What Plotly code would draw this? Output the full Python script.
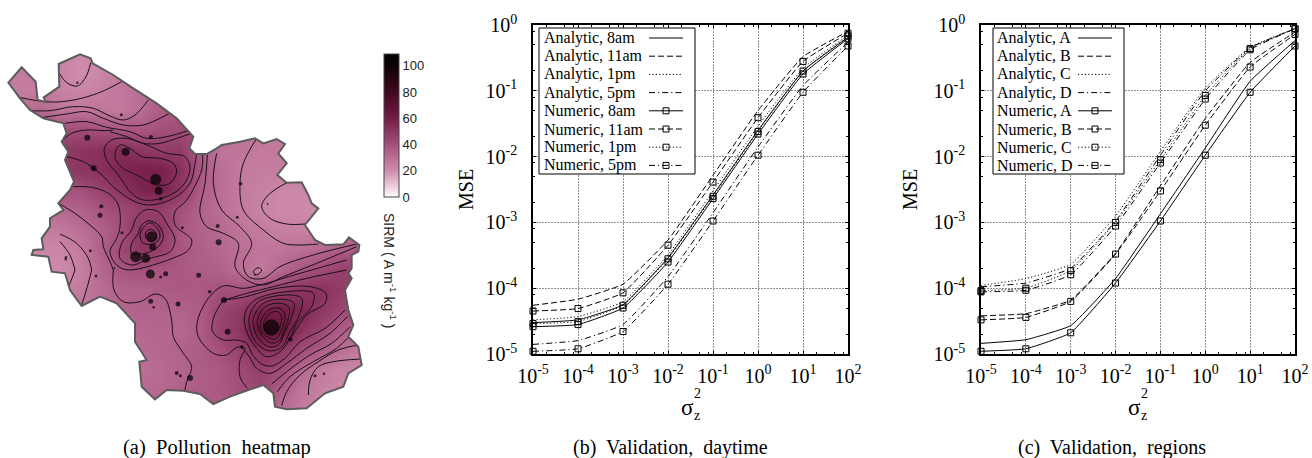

import plotly.graph_objects as go

W, H = 1312, 458
SERIF = "Liberation Serif"
SANS = "Liberation Sans"

# ---------- panel (a): values ----------
heat_x = list(range(0, 1081, 60))
heat_y = list(range(30, 1111, 60))
heat_z = [
 [26,26,26,24,22,24,26,28,30,32,34,34,34,34,34,34,34,34,34],
 [26,26,26,23,20,22,25,28,30,32,34,34,34,34,34,34,34,34,34],
 [26,25,26,24,22,24,27,30,33,35,36,34,32,30,30,30,30,30,30],
 [28,30,32,28,28,28,26,30,36,38,38,34,30,28,28,28,28,28,28],
 [36,38,40,40,42,40,38,38,40,42,42,34,28,28,26,26,26,26,26],
 [42,44,46,48,50,52,54,50,48,48,36,28,28,26,26,26,26,26,26],
 [46,46,48,48,50,52,56,58,58,52,38,30,26,25,25,24,24,24,24],
 [40,40,40,40,40,45,50,56,58,50,36,30,26,24,22,22,22,22,24],
 [30,30,30,32,34,38,42,46,46,40,34,30,26,23,21,21,21,22,24],
 [24,24,25,26,30,34,40,50,50,38,34,32,28,26,24,24,25,28,30],
 [22,22,22,22,26,34,42,50,46,38,35,32,30,28,28,30,32,36,38],
 [22,22,22,21,24,32,38,40,38,37,36,34,30,26,32,38,42,46,46],
 [24,24,24,24,26,30,34,34,36,37,37,40,40,42,46,50,52,48,44],
 [26,26,28,28,28,31,33,34,34,34,36,44,48,58,60,56,50,44,38],
 [30,30,30,30,30,31,32,32,33,32,36,45,50,66,64,52,44,36,32],
 [30,30,30,30,30,30,31,31,32,34,36,40,46,52,50,42,36,30,26],
 [30,30,30,30,30,30,30,30,31,33,36,37,42,46,42,32,26,23,22],
 [31,31,31,31,31,31,31,31,32,34,36,37,40,44,36,28,24,22,22],
 [31,31,31,31,31,31,31,31,32,34,36,37,40,40,30,26,24,22,22],
]
heat_colors = [[0,"#ffffff"],[0.09,"#e8c4d6"],[0.183,"#cf8dac"],[0.367,"#a4507c"],
               [0.55,"#741c46"],[0.734,"#42081f"],[0.917,"#0e0206"],[1,"#000000"]]
heat_ticks = [0,20,40,60,80,100]

region_outline = [(25,128),(65,82),(107,125),(113,180),(137,186),(131,172),(178,140),(176,72),(240,43),(272,55),
 (278,70),(340,105),(400,145),(470,190),(530,235),(580,290),(568,325),(585,342),(620,342),(650,325),(665,315),
 (720,305),(765,295),(790,310),(830,297),(855,312),(835,340),(860,370),(832,405),(860,428),(905,427),(925,465),
 (935,490),(955,505),(915,555),(945,600),(975,615),(1030,613),(1047,592),(1078,615),(1075,635),(1055,645),
 (1055,685),(1045,700),(1055,715),(1035,750),(1045,810),(1060,855),(1045,890),(1075,920),(1085,975),(1045,1000),
 (1030,1040),(975,1060),(920,1105),(860,1108),(825,1100),(820,1060),(790,1035),(745,1050),(690,1070),(640,1092),
 (600,1062),(550,1052),(500,1050),(465,1078),(425,1040),(418,965),(440,960),(405,905),(405,850),(350,790),
 (300,770),(245,798),(210,750),(195,700),(155,695),(145,650),(95,645),(100,630),(130,628),(125,595),(150,560),
 (150,535),(190,510),(175,490),(210,450),(222,425),(195,360),(205,335),(185,305),(200,280),(190,250),(130,235),
 (90,210),(60,175),(25,128)]

contours_full = [
 [(62,173),(110,182),(170,186),(240,176),(305,155),(365,125)],
 [(272,68),(258,110),(232,138),(200,128),(178,100)],
 [(88,212),(150,212),(220,200),(280,205),(330,228),(370,240),(405,225),(445,180)],
 [(130,232),(200,222),(260,215),(310,235),(370,255),(430,255),(480,235),(508,220)],
 [(195,250),(260,245),(320,262),(390,275),(440,295),(500,290),(570,270)],
 [(185,305),(215,280),(260,270),(315,272),(340,270)],
 [(622,345),(615,430),(600,520),(620,560),(670,580),(715,610),(705,680),(740,720),(790,735),(850,710),(950,670),(1070,620)],
 [(650,340),(640,430),(665,510),(720,560),(755,610),(730,670),(745,710),(790,715),(840,680),(940,645),(1070,612)],
 [(770,295),(730,370),(720,430),(730,510),(790,570),(850,610),(900,615),(955,612)],
 [(860,428),(805,465),(785,500),(810,535),(860,552),(915,552)],
 [(760,695),(775,683),(785,690),(770,705),(760,695)],
 [(340,690),(342,750),(370,785),(420,785),(465,762),(495,775),(515,840),(520,890),(550,940),(575,980),(560,1025),(555,1050)],
 [(275,690),(262,740),(245,795)],
 [(225,690),(205,740),(198,748)],
]
contours_se = [
 [(222,185),(240,160),(262,155),(275,170),(268,205),(250,225),(235,222),(222,205),(222,185)],
 [(212,185),(235,150),(270,145),(285,165),(275,210),(255,238),(225,225),(212,205),(212,185)],
 [(202,180),(225,140),(275,130),(298,145),(285,205),(265,245),(240,248),(215,225),(203,200),(202,180)],
 [(190,175),(220,130),(280,118),(312,130),(305,170),(285,215),(265,255),(235,260),(205,235),(192,205),(190,175)],
 [(178,170),(205,125),(290,105),(335,115),(330,160),(300,215),(275,262),(235,272),(200,250),(182,215),(178,170)],
 [(165,160),(195,120),(290,95),(370,100),(365,140),(320,190),(300,235),(270,275),(230,290),(200,265),(170,215),(165,160)],
 [(100,120),(160,112),(260,85),(360,80),(408,100),(405,130),(350,165),(302,235)],
 [(100,120),(72,170),(68,215),(100,240),(140,240),(170,250),(188,285),(215,312),(245,318),(285,295),(330,245),(405,205),(465,150)],
 [(155,262),(178,290),(200,325),(240,340),(290,310),(350,265),(420,220),(472,170)],
 [(245,372),(290,335),(360,285),(425,250),(480,200)],
 [(262,395),(300,350),(370,305),(440,265),(475,232)],
 [(275,437),(290,395),(330,345),(385,305),(445,270),(505,255)],
 [(355,405),(360,360),(385,320),(430,305),(512,297)],
 [(470,0),(330,40),(210,75),(160,85),(100,78),(55,115),(22,185),(25,230),(70,280),(110,285),(135,265),(155,260),(165,265),(150,300),(150,350),(172,385)],
 [(470,30),(350,55),(250,80),(170,100),(110,118)],
]
contours_nw = [
 [(133,55),(155,30),(200,25),(260,45),(320,70),(375,80),(390,115),(370,165),(320,200),(250,210),(215,190),(175,135),(140,90),(133,55)],
 [(165,70),(180,45),(210,55),(245,80),(300,85),(340,100),(350,125),(330,160),(290,165),(240,140),(190,115),(170,95),(165,70)],
 [(20,80),(70,95),(120,130),(165,175),(225,215),(270,225),(340,205),(390,160),(405,100),(410,72)],
 [(40,170),(95,172),(145,190),(175,225),(180,290),(170,325),(150,365),(170,405),(205,420),(350,380),(385,360),(395,330),(345,285),(345,245),(380,210),(425,120),(428,75)],
 [(228,265),(255,240),(295,245),(320,280),(345,330),(330,365),(270,385),(215,405),(180,385),(185,340),(215,300),(228,265)],
 [(242,290),(265,272),(295,285),(310,320),(295,350),(255,370),(215,370),(215,340),(235,310),(242,290)],
 [(245,300),(270,278),(292,295),(300,320),(285,340),(250,340),(240,320),(245,300)],
 [(258,305),(275,298),(290,315),(275,335),(258,325),(258,305)],
 [(0,222),(45,250),(90,285),(125,320),(130,350),(150,395),(160,420)],
 [(0,312),(50,340),(85,385),(95,420)],
 [(0,335),(30,375),(45,420)],
 [(150,5),(200,20),(250,40),(300,40),(350,25),(395,10)],
]
sample_x = [232,364,453,262,377,281,467,476,482,304,300,547,653,712,722,803,455,458,366,407,437,451,497,482,343,271,198,197,288,656,596,629,765,672,452,461,534,683,814,871,725,530,541,570,945,972]
sample_y = [128,224,291,293,335,385,418,452,476,499,526,563,558,532,431,492,590,621,578,650,655,702,701,711,685,632,652,658,708,607,706,755,704,780,784,802,792,875,862,898,921,999,1007,1014,1007,1001]
sample_d = [2.5,3,4,6,8,6,11,8,3.5,4,5,3,4,3,3.5,2,11,7,3,11,9,9,5,3,2,3,2.5,2.5,3,6,5,3.5,2,6,5,2.5,5,6,16,4.5,3.5,4,3,6,3,2.5]

# ---------- panels (b), (c): values ----------
sigma = [1e-5,1e-4,1e-3,1e-2,1e-1,1e0,1e1,1e2]

an_8am  = [3.0e-5,3.3e-5,5.6e-5,2.9e-4,2.6e-3,2.5e-2,0.20,0.65]
an_11am = [5.5e-5,6.8e-5,1.15e-4,5.4e-4,5.2e-3,5.0e-2,0.33,0.80]
an_1pm  = [3.3e-5,3.7e-5,6.2e-5,3.2e-4,3.0e-3,2.9e-2,0.22,0.70]
an_5pm  = [1.4e-5,1.6e-5,2.8e-5,1.5e-4,1.4e-3,1.4e-2,0.12,0.55]
nu_8am  = [2.6e-5,2.8e-5,5.0e-5,2.5e-4,2.3e-3,2.2e-2,0.18,0.62]
nu_11am = [4.5e-5,4.9e-5,8.5e-5,4.5e-4,4.1e-3,3.9e-2,0.28,0.75]
nu_1pm  = [2.9e-5,3.1e-5,5.5e-5,2.8e-4,2.5e-3,2.4e-2,0.20,0.68]
nu_5pm  = [1.1e-5,1.2e-5,2.2e-5,1.15e-4,1.05e-3,1.05e-2,0.095,0.48]

an_a = [1.45e-5,1.65e-5,2.7e-5,1.4e-4,1.35e-3,1.35e-2,0.14,0.58]
an_b = [3.8e-5,4.1e-5,6.6e-5,3.4e-4,3.6e-3,3.8e-2,0.27,0.78]
an_c = [1.1e-4,1.4e-4,2.3e-4,1.25e-3,1.2e-2,1.1e-1,0.46,0.88]
an_d = [1.05e-4,1.2e-4,2.0e-4,1.05e-3,1.05e-2,1.0e-1,0.45,0.88]
nu_a = [1.1e-5,1.2e-5,2.1e-5,1.2e-4,1.05e-3,1.05e-2,0.095,0.48]
nu_b = [3.3e-5,3.6e-5,6.3e-5,3.3e-4,3.0e-3,3.0e-2,0.23,0.72]
nu_c = [9.2e-5,1.0e-4,1.85e-4,1.0e-3,9.0e-3,8.5e-2,0.44,0.88]
nu_d = [8.8e-5,9.3e-5,1.6e-4,8.8e-4,8.0e-3,7.5e-2,0.42,0.88]

x_ticks = sigma
x_labels = ["10<sup>-5</sup>","10<sup>-4</sup>","10<sup>-3</sup>","10<sup>-2</sup>","10<sup>-1</sup>","10<sup>0</sup>","10<sup>1</sup>","10<sup>2</sup>"]
y_ticks = [1e-5,1e-4,1e-3,1e-2,1e-1,1e0]
y_labels = ["10<sup>-5</sup>","10<sup>-4</sup>","10<sup>-3</sup>","10<sup>-2</sup>","10<sup>-1</sup>","10<sup>0</sup>"]

DASHES = ["solid","6px,3px","1.2px,2.2px","6px,3px,1.2px,3px"]
legend_b = ["8am","11am","1pm","5pm"]
legend_c = ["A","B","C","D"]

fig = go.Figure()

# --- map axis ---
fig.add_trace(go.Heatmap(x=heat_x,y=heat_y,z=heat_z,zmin=0,zmax=109,zsmooth="best",colorscale=heat_colors,
    xaxis="x",yaxis="y",
    colorbar=dict(x=384/W,xanchor="left",xpad=0,y=1-54/H,yanchor="top",ypad=0,lenmode="pixels",len=143,
                  thickness=15,thicknessmode="pixels",outlinecolor="#444",outlinewidth=1,
                  tickmode="array",tickvals=heat_ticks,ticks="",tickfont=dict(family=SANS,size=13,color="#222"))))
def add_contours(lines,dx,dy):
    for ln in lines:
        fig.add_trace(go.Scatter(x=[p[0]+dx for p in ln],y=[p[1]+dy for p in ln],mode="lines",
            line=dict(color="#1a1014",width=1,shape="spline",smoothing=1.0),hoverinfo="skip",showlegend=False,xaxis="x",yaxis="y"))
add_contours(contours_full,0,0)
add_contours(contours_se,570,660)
add_contours(contours_nw,180,270)
fig.add_trace(go.Scatter(x=sample_x,y=sample_y,mode="markers",marker=dict(color="#000",size=sample_d,line=dict(width=0)),
    showlegend=False,xaxis="x",yaxis="y"))

poly = "M" + " L".join(f"{x},{y}" for x,y in region_outline) + " Z"
fig.add_shape(type="path",path="M0,-120 L1118,-120 L1118,1254 L0,1254 Z "+poly,fillcolor="#fff",fillrule="evenodd",
    line=dict(width=0),xref="x",yref="y",layer="above")
fig.add_shape(type="path",path=poly,line=dict(color="#5c5c5c",width=2),xref="x",yref="y",layer="above")

# --- line panels ---
BX = [533/W,848/W]; CX = [981/W,1295/W]; PY = [1-354/H,1-25/H]
def add_panel(xa,ya,analytic,numeric):
    for s,d in zip(analytic,DASHES):
        fig.add_trace(go.Scatter(x=sigma,y=s,mode="lines",line=dict(color="#000",width=1,dash=d,shape="spline",smoothing=0.35),
            showlegend=False,xaxis=xa,yaxis=ya,cliponaxis=False))
    for s,d in zip(numeric,DASHES):
        fig.add_trace(go.Scatter(x=sigma,y=s,mode="lines+markers",line=dict(color="#000",width=1,dash=d,shape="spline",smoothing=0.35),
            marker=dict(symbol="square-open",size=6,color="#000",line=dict(width=1,color="#000")),
            showlegend=False,xaxis=xa,yaxis=ya,cliponaxis=False))
add_panel("x2","y2",[an_8am,an_11am,an_1pm,an_5pm],[nu_8am,nu_11am,nu_1pm,nu_5pm])
add_panel("x3","y3",[an_a,an_b,an_c,an_d],[nu_a,nu_b,nu_c,nu_d])

# --- overlay in screen pixels: legend boxes and samples ---
def add_legend(x0,x1,tx,sx0,sx1,names):
    fig.add_trace(go.Scatter(x=[x0,x1,x1,x0,x0],y=[28,28,174,174,28],mode="lines",fill="toself",fillcolor="#fff",
        line=dict(color="#000",width=1),showlegend=False,hoverinfo="skip",xaxis="x4",yaxis="y4"))
    labels = [f"Analytic, {n}" for n in names]+[f"Numeric, {n}" for n in names]
    for i,lab in enumerate(labels):
        yy = 38+i*18.2
        fig.add_trace(go.Scatter(x=[sx0,sx1],y=[yy,yy],mode="lines",line=dict(color="#000",width=1,dash=DASHES[i%4]),
            showlegend=False,hoverinfo="skip",xaxis="x4",yaxis="y4"))
        if i>=4:
            fig.add_trace(go.Scatter(x=[(sx0+sx1)/2],y=[yy],mode="markers",
                marker=dict(symbol="square-open",size=6,color="#000",line=dict(width=1,color="#000")),
                showlegend=False,hoverinfo="skip",xaxis="x4",yaxis="y4"))
        fig.add_annotation(x=tx,y=yy,xref="x4",yref="y4",text=lab,showarrow=False,xanchor="left",yanchor="middle",xshift=-2,
            font=dict(family=SERIF,size=16,color="#000"))
add_legend(539,695,544,649,683,legend_b)
add_legend(993,1124,997,1078,1112,legend_c)

axis_x = dict(type="log",range=[-5,2],tickmode="array",tickvals=x_ticks,ticktext=x_labels,ticks="inside",ticklen=3,tickcolor="#000",
    showline=True,linecolor="#000",linewidth=1.5,mirror="ticks",showgrid=True,gridcolor="#909090",griddash="1.5px,1.5px",gridwidth=1.2,
    zeroline=False,tickfont=dict(family=SERIF,size=20,color="#000"),ticklabelstandoff=3,fixedrange=True,
    minor=dict(ticks="inside",ticklen=2,tickcolor="#000",showgrid=False,
               tickvals=[m*10**e for e in range(-5,2) for m in (2,5,8)]))
axis_y = dict(axis_x,range=[-5,0],tickvals=y_ticks,ticktext=y_labels,ticklabelstandoff=10,
    minor=dict(ticks="inside",ticklen=2,tickcolor="#000",showgrid=False,
               tickvals=[m*10**e for e in range(-5,0) for m in (2,5,8)]))

def ann(x,y,text,size,family=SERIF,angle=0,color="#000"):
    fig.add_annotation(x=x,y=y,xref="x4",yref="y4",text=text,showarrow=False,textangle=angle,
        xanchor="center",yanchor="middle",font=dict(family=family,size=size,color=color))
ann(217,447,"(a)  Pollution  heatmap",20.5)
ann(670,447,"(b)  Validation,  daytime",20)
ann(1112,447,"(c)  Validation,  regions",20)
ann(466,190,"MSE",20,angle=-90)
ann(910,190,"MSE",20,angle=-90)
for sx in (687,1134):
    ann(sx,407,"σ",23)
    ann(sx+10,393,"2",14)
    ann(sx+10,415,"z",14)
ann(390,270,"SIRM ( A m<sup>-1</sup> kg<sup>-1</sup> )",14,family=SANS,angle=90,color="#222")

fig.update_layout(width=W,height=H,margin=dict(l=0,r=0,t=0,b=0,autoexpand=False),paper_bgcolor="#fff",plot_bgcolor="rgba(0,0,0,0)",showlegend=False,
    xaxis=dict(domain=[0,440/W],range=[0,1320],visible=False,fixedrange=True),
    yaxis=dict(domain=[0,1],range=[1254,-120],visible=False,fixedrange=True),
    xaxis2=dict(axis_x,domain=BX,anchor="y2"),yaxis2=dict(axis_y,domain=PY,anchor="x2"),
    xaxis3=dict(axis_x,domain=CX,anchor="y3"),yaxis3=dict(axis_y,domain=PY,anchor="x3"),
    xaxis4=dict(domain=[0,1],range=[0,W],visible=False,fixedrange=True,anchor="y4"),
    yaxis4=dict(domain=[0,1],range=[H,0],visible=False,fixedrange=True,anchor="x4"))

fig.write_html("out.html",config=dict(displayModeBar=False),post_script="document.body.style.margin='0';")
